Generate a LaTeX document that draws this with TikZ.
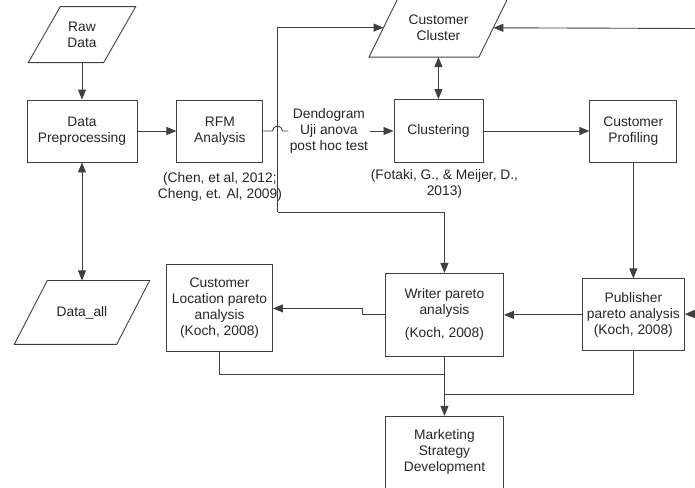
\documentclass[tikz,border=0pt]{standalone}
\usepackage{fontspec}
\setmainfont{Liberation Sans}
\usepackage{tikz}
\usetikzlibrary{arrows.meta}
\usetikzlibrary{positioning}
\newcommand{\slantbox}[2]{\draw ([xshift=#2]#1.north west) -- ([xshift=#2]#1.north east)
  -- ([xshift=-#2]#1.south east) -- ([xshift=-#2]#1.south west) -- cycle;}

\begin{document}
\begin{tikzpicture}
    [x=1pt, y=-1pt, color=black!75, line width=0.9pt,
     every node/.style={align=center, text=black!85,
       font=\fontsize{13.8}{16}\selectfont},
     box/.style={draw, rectangle, inner sep=1pt},
     io/.style={rectangle, inner sep=1pt},
     >={Triangle[length=10pt,width=8pt]}]
    \useasboundingbox (0,0) rectangle (695,487);

    \node[box, minimum width=110pt, minimum height=62pt] (dp) at (82,131) {Data\\Preprocessing};
    \node[io, minimum width=74.5pt, minimum height=55pt] (raw) [above=37pt of dp] {Raw\\Data};
    \node[io, minimum width=101.5pt, minimum height=63pt] (dall) [below=118pt of dp] {Data\_all};
    \node[box, minimum width=86pt, minimum height=62pt] (rfm) [right=39pt of dp] {RFM\\Analysis};
    \node[inner sep=1pt] (dendo) [right=25pt of rfm] {Dendogram\\Uji anova\\post hoc test};
    \node[box, minimum width=89pt, minimum height=63pt] (clus) [right=24pt of dendo] {Clustering};
    \node[box, minimum width=87pt, minimum height=62pt] (prof) [right=106pt of clus] {Customer\\Profiling};
    \node[io, minimum width=109pt, minimum height=58pt] (clust) [above=42pt of clus] {Customer\\Cluster};
    \node[box, minimum width=102pt, minimum height=72pt] (pub) [below=116pt of prof] {Publisher\\pareto analysis\\(Koch, 2008)};
    \node[box, minimum width=118pt, minimum height=83pt] (wri) [left=78pt of pub] {Writer pareto\\analysis\\[7pt](Koch, 2008)};
    \node[box, minimum width=106pt, minimum height=87pt] (loc) [left=112pt of wri, yshift=6.5pt] {Customer\\Location pareto\\analysis\\(Koch, 2008)};
    \node[box, minimum width=118pt, minimum height=72pt] (mkt) [below=59pt of wri] {Marketing\\Strategy\\Development};
    \node[inner sep=1pt] (ref1) [below=9pt of rfm] {(Chen, et al, 2012;\\Cheng, et. Al, 2009)};
    \node[inner sep=1pt] (ref2) [below=5pt of clus, xshift=6pt] {(Fotaki, G., \& Meijer, D.,\\2013)};
    \slantbox{raw}{16pt}
    \slantbox{dall}{16.5pt}
    \slantbox{clust}{14.5pt}

    \coordinate (hop) at (272.5,131);
    \coordinate (jn) at (277.5,212);
    \coordinate (e1) at (695,28.5);
    \coordinate (e2) at (695,314);
    \coordinate[below=18pt of wri.south] (j1);
    \coordinate[below=38pt of wri.south] (j2);

    \draw [->] (raw) -- (dp);
    \draw [<->] (dp) -- (dall);
    \draw [->] (dp) -- (rfm);
    \draw (rfm) -- (hop) arc[start angle=180, end angle=0, radius=5pt] -- (dendo);
    \draw [->] (dendo) -- (clus);
    \draw [<->] (clust) -- (clus);
    \draw [->] (clus) -- (prof);
    \draw [->] (prof) -- (pub);
    \draw [->] (pub) -- (wri);
    \draw [->] (e1) -- (clust);
    \draw [->] (e2) -- (pub);
    \draw [->] (jn) |- (clust);
    \draw [->] (jn) -| (wri);
    \draw [->] (wri.west) -- ++(-23,0) |- (loc);
    \draw (loc) |- (j1);
    \draw (pub) |- (j2);
    \draw [->] (wri) -- (mkt);
  \end{tikzpicture}
\end{document}
